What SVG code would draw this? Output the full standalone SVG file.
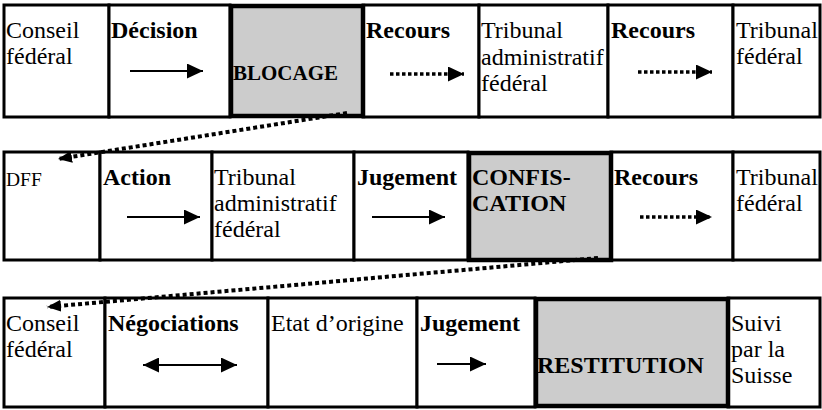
<svg xmlns="http://www.w3.org/2000/svg" width="822" height="410" viewBox="0 0 822 410">
<style>
text{font-family:"Liberation Serif","Times New Roman",serif;font-size:24px;fill:#000}
.b{font-weight:bold}
.cell{fill:#fff;stroke:#000;stroke-width:3}
.gray{fill:#cccccc;stroke:#000;stroke-width:4.5}
.solid{stroke:#000;stroke-width:2;fill:none}
.dots{stroke:#000;stroke-width:3.5;stroke-dasharray:3.5 2.5;fill:none}
.conn{stroke:#000;stroke-width:4;stroke-dasharray:4 3;fill:none}
</style>
<defs>
<marker id="ah" markerUnits="userSpaceOnUse" markerWidth="17" markerHeight="15" refX="16" refY="7.5" orient="auto"><path d="M0,0 L16,7.5 L0,15 Z" fill="#000"/></marker>
<marker id="ahs" markerUnits="userSpaceOnUse" markerWidth="17" markerHeight="15" refX="16" refY="7.5" orient="auto-start-reverse"><path d="M0,0 L16,7.5 L0,15 Z" fill="#000"/></marker>
<marker id="ch" markerUnits="userSpaceOnUse" markerWidth="14" markerHeight="12" refX="14" refY="6" orient="auto"><path d="M0,0 L14,6 L0,12 Z" fill="#000"/></marker>
</defs>
<rect width="822" height="410" fill="#fff"/>

<!-- Row 1 -->
<g id="r1-conseil"><rect class="cell" x="4" y="5" width="105" height="112"/><text x="6" y="38">Conseil</text><text x="6" y="64">fédéral</text></g>
<g id="r1-decision"><rect class="cell" x="109" y="5" width="121" height="112"/><text class="b" x="111" y="38">Décision</text><line class="solid" x1="130" y1="71" x2="203" y2="71" marker-end="url(#ah)"/></g>
<g id="r1-recours1"><rect class="cell" x="363" y="5" width="116" height="112"/><text class="b" x="366" y="38">Recours</text><line class="dots" x1="390" y1="74" x2="464" y2="74" marker-end="url(#ah)"/></g>
<g id="r1-taf"><rect class="cell" x="479" y="5" width="129" height="112"/><text x="481" y="38">Tribunal</text><text x="481" y="64.5">administratif</text><text x="481" y="91">fédéral</text></g>
<g id="r1-recours2"><rect class="cell" x="608" y="5" width="125" height="112"/><text class="b" x="611" y="38">Recours</text><line class="dots" x1="638" y1="72" x2="712" y2="72" marker-end="url(#ah)"/></g>
<g id="r1-tf"><rect class="cell" x="733" y="5" width="87" height="112"/><text x="736" y="38">Tribunal</text><text x="736" y="64">fédéral</text></g>
<g id="r1-blocage"><rect class="gray" x="231" y="6" width="132" height="110"/><text class="b" x="233" y="80" style="font-size:21px">BLOCAGE</text></g>

<!-- Row 2 -->
<g id="r2-dff"><rect class="cell" x="4" y="152" width="96" height="108"/><text x="6" y="186" style="font-size:19.5px">DFF</text></g>
<g id="r2-action"><rect class="cell" x="100" y="152" width="112" height="108"/><text class="b" x="103" y="185">Action</text><line class="solid" x1="127" y1="217" x2="200" y2="217" marker-end="url(#ah)"/></g>
<g id="r2-taf"><rect class="cell" x="212" y="152" width="142" height="108"/><text x="214" y="185">Tribunal</text><text x="214" y="211">administratif</text><text x="214" y="237">fédéral</text></g>
<g id="r2-jugement"><rect class="cell" x="354" y="152" width="114" height="108"/><text class="b" x="357" y="185">Jugement</text><line class="solid" x1="372" y1="217" x2="445" y2="217" marker-end="url(#ah)"/></g>
<g id="r2-recours"><rect class="cell" x="611" y="152" width="122" height="108"/><text class="b" x="614" y="185">Recours</text><line class="dots" x1="640" y1="217" x2="712" y2="217" marker-end="url(#ah)"/></g>
<g id="r2-tf"><rect class="cell" x="733" y="152" width="87" height="108"/><text x="736" y="185">Tribunal</text><text x="736" y="211">fédéral</text></g>
<g id="r2-confiscation"><rect class="gray" x="469" y="153" width="142" height="107"/><text class="b" x="472" y="185">CONFIS-</text><text class="b" x="472" y="211">CATION</text></g>

<!-- Row 3 -->
<g id="r3-conseil"><rect class="cell" x="4" y="298" width="101" height="109"/><text x="6" y="331">Conseil</text><text x="6" y="357">fédéral</text></g>
<g id="r3-negociations"><rect class="cell" x="105" y="298" width="163" height="109"/><text class="b" x="108" y="331">Négociations</text><line class="solid" x1="143" y1="365" x2="237" y2="365" marker-start="url(#ahs)" marker-end="url(#ahs)"/></g>
<g id="r3-etat"><rect class="cell" x="268" y="298" width="149" height="109"/><text x="271" y="331">Etat d’origine</text></g>
<g id="r3-jugement"><rect class="cell" x="417" y="298" width="118" height="109"/><text class="b" x="420" y="331">Jugement</text><line class="solid" x1="437" y1="364" x2="486" y2="364" marker-end="url(#ah)"/></g>
<g id="r3-suivi"><rect class="cell" x="728" y="298" width="92" height="109"/><text x="731" y="331">Suivi</text><text x="731" y="357">par la</text><text x="731" y="383">Suisse</text></g>
<g id="r3-restitution"><rect class="gray" x="536" y="299" width="192" height="107"/><text class="b" x="537" y="373">RESTITUTION</text></g>

<!-- Connectors -->
<g id="connectors">
<line class="conn" x1="347" y1="113" x2="58" y2="159" marker-end="url(#ch)"/>
<line class="conn" x1="598" y1="258" x2="47" y2="307" marker-end="url(#ch)"/>
</g>
</svg>
